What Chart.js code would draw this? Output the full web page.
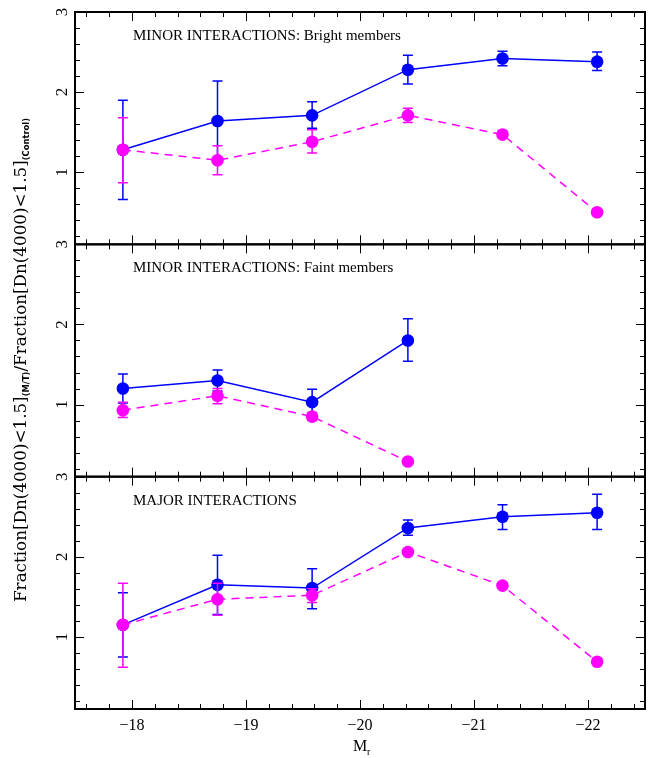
<!DOCTYPE html>
<html>
<head>
<meta charset="utf-8">
<script src="https://cdn.jsdelivr.net/npm/chart.js@4.4.0/dist/chart.umd.min.js"></script>
<style>
html, body { margin: 0; padding: 0; background: #fff; }
</style>
</head>
<body>
<canvas id="myChart" width="656" height="758"></canvas>
<script>
// absolute magnitude bins (x axis, M_r)
const magBins = [-17.92, -18.75, -19.58, -20.42, -21.25, -22.08];
const xTickLabels = [-18, -19, -20, -21, -22];
const yTickLabels = [1, 2, 3];

// minor interactions, bright members
const brightBlue   = [1.28, 1.64, 1.71, 2.28, 2.42, 2.38];
const brightBlueHi = [1.90, 2.14, 1.88, 2.46, 2.51, 2.50];
const brightBlueLo = [0.66, 1.14, 1.55, 2.10, 2.33, 2.27];
const brightPink   = [1.28, 1.15, 1.38, 1.71, 1.47, 0.50];
const brightPinkHi = [1.68, 1.33, 1.53, 1.80, 1.52, 0.53];
const brightPinkLo = [0.87, 0.97, 1.24, 1.62, 1.43, 0.47];

// minor interactions, faint members
const faintBlue   = [1.20, 1.30, 1.03, 1.80];
const faintBlueHi = [1.38, 1.43, 1.19, 2.07];
const faintBlueLo = [1.02, 1.17, 0.87, 1.54];
const faintPink   = [0.93, 1.11, 0.85, 0.29];
const faintPinkHi = [1.03, 1.20, 0.90, 0.32];
const faintPinkLo = [0.84, 1.01, 0.80, 0.26];

// major interactions
const majorBlue   = [1.15, 1.65, 1.61, 2.36, 2.50, 2.55];
const majorBlueHi = [1.55, 2.02, 1.85, 2.46, 2.65, 2.78];
const majorBlueLo = [0.75, 1.28, 1.35, 2.27, 2.34, 2.34];
const majorPink   = [1.15, 1.47, 1.52, 2.06, 1.64, 0.69];
const majorPinkHi = [1.67, 1.67, 1.60, 2.10, 1.67, 0.72];
const majorPinkLo = [0.62, 1.27, 1.43, 2.02, 1.61, 0.66];

const panelTitles = {
    yBright: 'MINOR INTERACTIONS: Bright members',
    yFaint: 'MINOR INTERACTIONS: Faint members',
    yMajor: 'MAJOR INTERACTIONS'
};

const BLUE = '#0000ff';
const PINK = '#ff00ff';
const SERIF = '"Liberation Serif", "DejaVu Serif", serif';

function pts(ys) {
    return ys.map((y, i) => ({x: magBins[i], y: y}));
}

function makeSet(ys, hi, lo, color, axis, dashed) {
    return {
        data: pts(ys),
        errHi: hi,
        errLo: lo,
        yAxisID: axis,
        borderColor: color,
        backgroundColor: color,
        borderWidth: 1.5,
        borderDash: dashed ? [8, 6] : [],
        pointRadius: 6.3,
        pointBorderWidth: 0,
        pointBackgroundColor: color,
        tension: 0
    };
}

// error bars drawn right after each dataset so the stacking matches the original
const errorBars = {
    id: 'errorBars',
    afterDatasetDraw(chart, args) {
        const ds = chart.data.datasets[args.index];
        const meta = args.meta;
        const ctx = chart.ctx;
        ctx.save();
        ctx.strokeStyle = ds.borderColor;
        ctx.lineWidth = 1.5;
        ctx.setLineDash([]);
        ds.data.forEach((p, i) => {
            const x = meta.xScale.getPixelForValue(p.x);
            const yh = meta.yScale.getPixelForValue(ds.errHi[i]);
            const yl = meta.yScale.getPixelForValue(ds.errLo[i]);
            ctx.beginPath();
            ctx.moveTo(x, yh); ctx.lineTo(x, yl);
            ctx.moveTo(x - 5, yh); ctx.lineTo(x + 5, yh);
            ctx.moveTo(x - 5, yl); ctx.lineTo(x + 5, yl);
            ctx.stroke();
        });
        ctx.restore();
    }
};

// frame, inward ticks, labels and titles in the old pgplot style
const frame = {
    id: 'frame',
    afterDraw(chart) {
        const ctx = chart.ctx;
        const xs = chart.scales.x;
        const area = chart.chartArea;
        ctx.save();
        ctx.strokeStyle = '#000';
        ctx.fillStyle = '#000';

        ['yBright', 'yFaint', 'yMajor'].forEach(id => {
            const ys = chart.scales[id];
            const top = ys.getPixelForValue(3);
            const bot = ys.getPixelForValue(0.1);

            ctx.lineWidth = 2;
            ctx.strokeRect(area.left, top, area.right - area.left, bot - top);

            // y ticks
            ctx.lineWidth = 1;
            for (let k = 1; k <= 15; k++) {
                const v = k * 0.2;
                const y = Math.round(ys.getPixelForValue(v)) + 0.5;
                const len = (k % 5 === 0) ? 9 : 5;
                ctx.beginPath();
                ctx.moveTo(area.left, y); ctx.lineTo(area.left + len, y);
                ctx.moveTo(area.right, y); ctx.lineTo(area.right - len, y);
                ctx.stroke();
            }
            // x ticks on top and bottom of each panel
            for (let k = 88; k <= 112; k++) {
                const v = -k * 0.2;
                const x = Math.round(xs.getPixelForValue(v)) + 0.5;
                const len = (k % 5 === 0) ? 9 : 5;
                ctx.beginPath();
                ctx.moveTo(x, top); ctx.lineTo(x, top + len);
                ctx.moveTo(x, bot); ctx.lineTo(x, bot - len);
                ctx.stroke();
            }

            // rotated y tick labels
            ctx.font = '17px ' + SERIF;
            ctx.textAlign = 'center';
            ctx.textBaseline = 'middle';
            yTickLabels.forEach(t => {
                ctx.save();
                ctx.translate(63, ys.getPixelForValue(t));
                ctx.rotate(-Math.PI / 2);
                ctx.fillText(String(t), 0, 0);
                ctx.restore();
            });

            // panel title
            ctx.font = '15px ' + SERIF;
            ctx.textAlign = 'left';
            ctx.fillText(panelTitles[id], 133, top + 24);
        });

        // x tick labels
        ctx.font = '16px ' + SERIF;
        ctx.textAlign = 'center';
        ctx.textBaseline = 'middle';
        xTickLabels.forEach(t => {
            ctx.fillText('\u2212' + Math.abs(t), xs.getPixelForValue(t), area.bottom + 17);
        });

        // x title M_r
        ctx.textAlign = 'left';
        ctx.font = '16px ' + SERIF;
        ctx.fillText('M', 353, area.bottom + 38);
        ctx.font = '10px ' + SERIF;
        ctx.fillText('r', 367, area.bottom + 43);

        // y title with subscripts, squeezed to the original length
        const parts = [
            {t: 'Fraction[Dn(4000)<1.5]', f: '16px "DejaVu Serif", serif', dy: 0},
            {t: '(M/T)', f: 'bold 8px "DejaVu Sans", sans-serif', dy: 3},
            {t: '/Fraction[Dn(4000)<1.5]', f: '16px "DejaVu Serif", serif', dy: 0},
            {t: '(Control)', f: 'bold 8px "DejaVu Sans", sans-serif', dy: 3}
        ];
        let total = 0;
        parts.forEach(p => { ctx.font = p.f; p.w = ctx.measureText(p.t).width; total += p.w; });
        ctx.save();
        ctx.translate(25.5, 360);
        ctx.rotate(-Math.PI / 2);
        ctx.scale(484 / total, 1);
        ctx.textBaseline = 'alphabetic';
        let cx = -total / 2;
        parts.forEach(p => {
            ctx.font = p.f;
            ctx.fillText(p.t, cx, p.dy);
            cx += p.w;
        });
        ctx.restore();

        ctx.restore();
    }
};

const panelAxis = {
    type: 'linear',
    display: false,
    position: 'left',
    min: 0.1,
    max: 3,
    stack: 'panels',
    stackWeight: 1
};

const ctx = document.getElementById('myChart').getContext('2d');
const myChart = new Chart(ctx, {
    type: 'line',
    data: {
        datasets: [
            makeSet(brightPink, brightPinkHi, brightPinkLo, PINK, 'yBright', true),
            makeSet(faintPink, faintPinkHi, faintPinkLo, PINK, 'yFaint', true),
            makeSet(majorPink, majorPinkHi, majorPinkLo, PINK, 'yMajor', true),
            makeSet(brightBlue, brightBlueHi, brightBlueLo, BLUE, 'yBright', false),
            makeSet(faintBlue, faintBlueHi, faintBlueLo, BLUE, 'yFaint', false),
            makeSet(majorBlue, majorBlueHi, majorBlueLo, BLUE, 'yMajor', false)
        ]
    },
    options: {
        responsive: false,
        animation: false,
        layout: {padding: {left: 75, right: 11, top: 12, bottom: 49}},
        plugins: {legend: {display: false}, tooltip: {enabled: false}},
        scales: {
            x: {type: 'linear', display: false, min: -22.5, max: -17.5, reverse: true},
            yMajor: Object.assign({}, panelAxis),
            yFaint: Object.assign({}, panelAxis),
            yBright: Object.assign({}, panelAxis)
        }
    },
    plugins: [errorBars, frame]
});
</script>
</body>
</html>
